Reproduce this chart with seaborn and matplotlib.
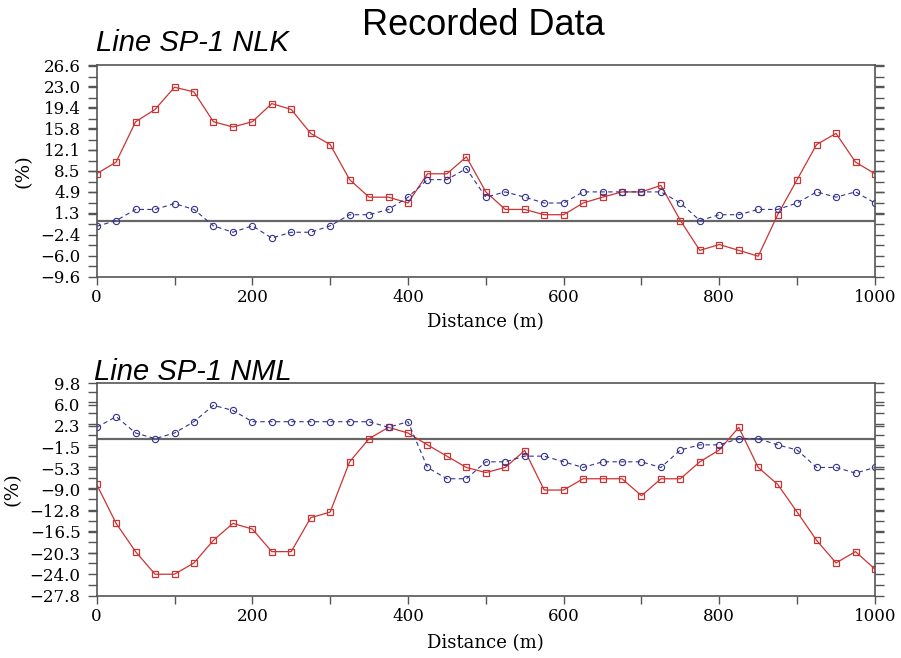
import numpy as np
import pandas as pd
import matplotlib
matplotlib.use("Agg")
import matplotlib.pyplot as plt
import seaborn as sns
from matplotlib.ticker import AutoMinorLocator

# distance along the line (m), one station every 25 m
distance = list(range(0, 1001, 25))

# Line SP-1 NLK
nlk_red = [8.0, 10.0, 16.9, 19.0, 22.8, 22.0, 16.9, 16.0, 16.9, 20.0, 19.0,
           14.9, 13.0, 7.0, 4.0, 4.0, 3.0, 8.0, 8.0, 10.9, 4.9,
           1.9, 1.9, 1.0, 1.0, 3.0, 4.0, 4.9, 4.9, 6.0, 0.0,
           -5.1, -4.1, -5.1, -6.1, 1.0, 7.0, 13.0, 14.9, 10.0, 8.0]
nlk_blue = [-1.0, 0.0, 1.9, 1.9, 2.9, 1.9, -0.9, -2.0, -0.9, -3.0, -2.0,
            -2.0, -0.9, 1.0, 1.0, 1.9, 4.0, 7.0, 7.0, 8.9, 4.0,
            4.9, 4.0, 3.0, 3.0, 4.9, 4.9, 4.9, 4.9, 4.9, 3.0,
            0.0, 1.0, 1.0, 1.9, 1.9, 3.0, 4.9, 4.0, 4.9, 3.0]
nlk_yticks = ["26.6", "23.0", "19.4", "15.8", "12.1", "8.5", "4.9", "1.3",
              "\u22122.4", "\u22126.0", "\u22129.6"]

# Line SP-1 NML
nml_red = [-8.1, -15.0, -20.0, -24.0, -24.0, -22.0, -18.0, -15.0, -16.0, -20.0, -20.0,
           -14.0, -13.0, -4.1, 0.0, 2.0, 1.0, -1.1, -3.1, -5.1, -6.0,
           -5.1, -2.1, -9.1, -9.1, -7.1, -7.1, -7.1, -10.1, -7.1, -7.1,
           -4.1, -2.0, 2.0, -5.1, -8.1, -13.0, -18.0, -22.0, -20.0, -23.1]
nml_blue = [2.0, 3.9, 1.0, 0.0, 1.0, 3.0, 5.9, 5.0, 3.0, 3.0, 3.0,
            3.0, 3.0, 3.0, 3.0, 2.0, 3.0, -5.1, -7.1, -7.1, -4.1,
            -4.1, -3.1, -3.1, -4.1, -5.1, -4.1, -4.1, -4.1, -5.1, -2.0,
            -1.1, -1.1, 0.0, 0.0, -1.1, -2.0, -5.1, -5.1, -6.1, -5.1]
nml_yticks = ["9.8", "6.0", "2.3", "\u22121.5", "\u22125.3", "\u22129.0", "\u221212.8",
              "\u221216.5", "\u221220.3", "\u221224.0", "\u221227.8"]

xticks = list(range(0, 1001, 100))
xticklabels = [str(v) if v % 200 == 0 else "" for v in xticks]

sns.set_style("white")
plt.rcParams['font.family'] = ['DejaVu Serif']
plt.rcParams['text.color'] = 'black'
plt.rcParams['axes.labelcolor'] = 'black'

red = "#cc3333"
blue = "#33338f"
spine = "#555555"

fig = plt.figure(figsize=(9.01, 6.58), dpi=100)
ax1 = fig.add_axes([0.1073, 0.5795, 0.8638, 0.3217])
ax2 = fig.add_axes([0.1073, 0.0947, 0.8638, 0.3228])


def draw(ax, r, b, labels, xlab_y, ylab_x):
    df = pd.DataFrame({"distance": distance, "red": r, "blue": b})
    sns.lineplot(data=df, x="distance", y="red", ax=ax, color=red, lw=0.9,
                 marker="s", markersize=4.5, markerfacecolor="none",
                 markeredgecolor=red, markeredgewidth=0.9)
    sns.lineplot(data=df, x="distance", y="blue", ax=ax, color=blue, lw=0.8,
                 linestyle=(0, (4, 3)), marker="o", markersize=4.5,
                 markerfacecolor="none", markeredgecolor=blue,
                 markeredgewidth=0.8)
    ax.axhline(0, color="#666666", lw=1.6, zorder=1)
    vals = [float(s.replace("\u2212", "-")) for s in labels]
    ax.set_ylim(min(vals), max(vals))
    ax.set_xlim(0, 1000)
    ax.set_yticks(vals)
    ax.set_yticklabels(labels)
    ax.yaxis.set_minor_locator(AutoMinorLocator(2))
    ax.set_xticks(xticks)
    ax.set_xticklabels(xticklabels)
    ax.tick_params(axis="both", which="both", direction="out", colors=spine,
                   labelcolor="black", labelsize=12, width=1.0)
    ax.tick_params(axis="y", which="both", left=True, right=True, length=6.5, pad=5)
    ax.tick_params(axis="x", which="both", bottom=True, top=False, length=6, pad=3)
    for s in ax.spines.values():
        s.set_color(spine)
        s.set_linewidth(1.2)
    ax.set_xlabel("Distance (m)", fontsize=13)
    ax.xaxis.set_label_coords(0.5, xlab_y)
    ax.set_ylabel("(%)", fontsize=14)
    ax.yaxis.set_label_coords(ylab_x, 0.5)


draw(ax1, nlk_red, nlk_blue, nlk_yticks, -0.17, -0.082)
draw(ax2, nml_red, nml_blue, nml_yticks, -0.18, -0.097)

fig.text(0.537, 0.947, "Recorded Data", ha="center", va="baseline",
         fontsize=26, family="Liberation Sans")
fig.text(0.107, 0.9225, "Line SP-1 NLK", ha="left", va="baseline",
         fontsize=21, family="Liberation Sans", style="italic")
fig.text(0.104, 0.4225, "Line SP-1 NML", ha="left", va="baseline",
         fontsize=21, family="Liberation Sans", style="italic")

fig.savefig("out.png", dpi=100)
